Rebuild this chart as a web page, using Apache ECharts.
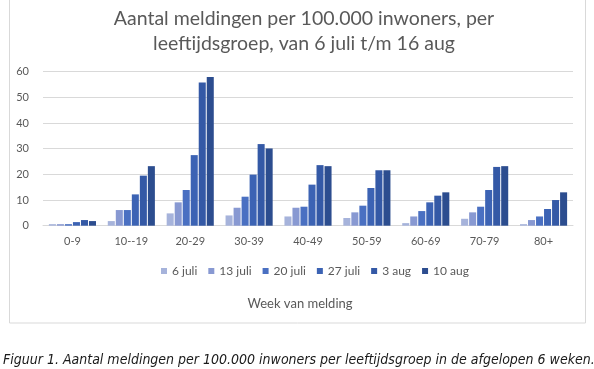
<!DOCTYPE html>
<html><head><meta charset="utf-8">
<script src="https://cdn.jsdelivr.net/npm/echarts@6/dist/echarts.min.js"></script>
<style>html,body{margin:0;padding:0;background:#fff}#c{width:594px;height:369px}</style>
</head><body><div id="c"></div>
<script>
const categories = ['0-9','10--19','20-29','30-39','40-49','50-59','60-69','70-79','80+'];
const weeks = ['6 juli','13 juli','20 juli','27 juli','3 aug','10 aug'];
const w6jul  = [0.6, 1.8, 4.8, 4.0, 3.6, 3.0, 1.0, 2.7, 0.6];
const w13jul = [0.6, 6.1, 9.1, 7.0, 7.0, 5.2, 3.6, 5.2, 2.2];
const w20jul = [0.6, 6.1, 13.9, 11.3, 7.4, 7.8, 5.7, 7.4, 3.6];
const w27jul = [1.4, 12.2, 27.5, 19.9, 16.0, 14.7, 9.1, 13.9, 6.5];
const w3aug  = [2.2, 19.5, 55.8, 31.8, 23.6, 21.6, 11.7, 22.9, 10.0];
const w10aug = [1.8, 23.2, 57.9, 30.1, 23.2, 21.6, 13.0, 23.2, 13.0];
const seriesValues = [w6jul, w13jul, w20jul, w27jul, w3aug, w10aug];
const yMin = 0, yMax = 60, yStep = 10;

const colors = ['#a6b3db', '#8899d2', '#4a70c2', '#3c63b4', '#3459a6', '#2c4d8f'];
const FONT = 'Lato, "Open Sans", sans-serif';

const chart = echarts.init(document.getElementById('c'));
chart.setOption({
  animation: false,
  color: colors,
  title: {
    text: 'Aantal meldingen per 100.000 inwoners, per\nleeftijdsgroep, van 6 juli t/m 16 aug',
    left: 299, textAlign: 'center', top: 1,
    textStyle: { fontFamily: FONT, fontSize: 19.5, fontWeight: 'normal', color: '#595959', lineHeight: 25 }
  },
  legend: {
    data: weeks, left: 156, top: 260,
    itemWidth: 6, itemHeight: 6, itemGap: 11, icon: 'rect',
    textStyle: { fontFamily: FONT, fontSize: 12, color: '#595959' }
  },
  grid: { left: 43, right: 21, top: 71.7, bottom: 143.3, containLabel: false },
  xAxis: {
    type: 'category', data: categories,
    axisLine: { show: true, lineStyle: { color: '#d9d9d9', width: 1 } },
    axisTick: { show: false },
    axisLabel: { fontFamily: FONT, fontSize: 11, color: '#595959', margin: 10 }
  },
  yAxis: {
    type: 'value', min: yMin, max: yMax, interval: yStep,
    axisLine: { show: false }, axisTick: { show: false },
    axisLabel: { fontFamily: FONT, fontSize: 11, color: '#595959', margin: 14 },
    splitLine: { lineStyle: { color: '#d9d9d9', width: 1 } }
  },
  series: weeks.map((name, i) => ({
    name, type: 'bar', data: seriesValues[i],
    barCategoryGap: '20%', barGap: '14%'
  })),
  graphic: [
    { type: 'rect', shape: { x: 9.5, y: -1, width: 576, height: 324 }, style: { fill: 'none', stroke: '#d9d9d9', lineWidth: 1 }, z: -10 },
    { type: 'text', x: 300, y: 304, style: { text: 'Week van melding', fontFamily: FONT, fontSize: 13, fill: '#595959', align: 'center', verticalAlign: 'middle' } },
    { type: 'text', x: 3, y: 360, style: { text: 'Figuur 1. Aantal meldingen per 100.000 inwoners per leeftijdsgroep in de afgelopen 6 weken.', fontFamily: '"Liberation Sans Narrow", "DejaVu Sans Condensed", sans-serif', fontStyle: 'italic', fontSize: 14, fill: '#1a1a1a', align: 'left', verticalAlign: 'middle' } }
  ]
});
</script></body></html>
